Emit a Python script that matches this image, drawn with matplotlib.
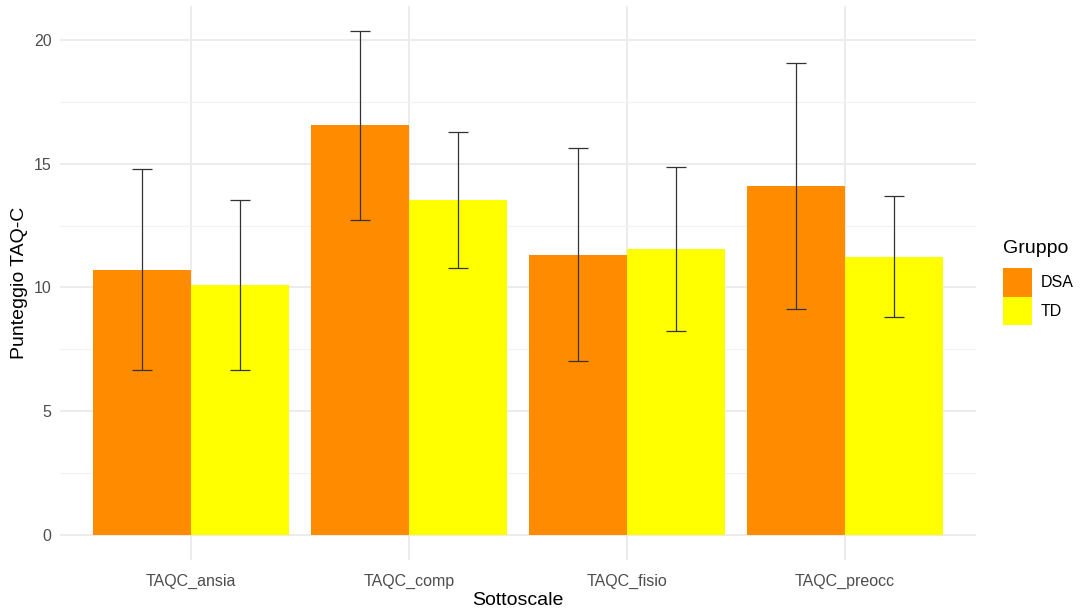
import matplotlib
matplotlib.use("Agg")
import matplotlib.pyplot as plt
import numpy as np

categories = ["TAQC_ansia", "TAQC_comp", "TAQC_fisio", "TAQC_preocc"]
groups = ["DSA", "TD"]
dsa_mean = [10.72, 16.55, 11.33, 14.10]
dsa_sd = [4.07, 3.82, 4.30, 4.98]
td_mean = [10.10, 13.55, 11.56, 11.25]
td_sd = [3.45, 2.75, 3.30, 2.43]
colors = ["#FF8C00", "#FFFF00"]
yticks = [0, 5, 10, 15, 20]

plt.rcParams['font.family'] = ['Liberation Sans', 'DejaVu Sans']

fig = plt.figure(figsize=(10.82, 6.10), dpi=100)
ax = fig.add_axes([60/1082, 1-560/610, (976-60)/1082, (560-6)/610])

x = np.arange(1, len(categories)+1)
w = 0.45
means = [dsa_mean, td_mean]
sds = [dsa_sd, td_sd]
handles = []
for i, g in enumerate(groups):
    pos = x + (i - 0.5) * w
    b = ax.bar(pos, means[i], width=w, color=colors[i], label=g, zorder=2, linewidth=0)
    handles.append(b)
    ax.errorbar(pos, means[i], yerr=sds[i], fmt='none', ecolor='#333333',
                elinewidth=0.9, capsize=7.5, capthick=0.9, zorder=3)

ax.set_xlim(0.4, 4.6)
ax.set_ylim(-1.018, 21.38)
ax.set_xticks(x)
ax.set_xticklabels(categories)
ax.set_yticks(yticks)
ax.set_yticks([2.5, 7.5, 12.5, 17.5], minor=True)
ax.grid(True, which='major', color='#EBEBEB', linewidth=1.3, zorder=0)
ax.grid(True, which='minor', axis='y', color='#F2F2F2', linewidth=0.8, zorder=0)
ax.set_axisbelow(True)
for s in ax.spines.values():
    s.set_visible(False)
ax.tick_params(which='both', length=0, labelsize=11.5, labelcolor='#4D4D4D', pad=6)
ax.tick_params(axis='x', pad=10)
ax.set_xlabel("Sottoscale", fontsize=14, color='black', labelpad=2)
ax.set_ylabel("Punteggio TAQ-C", fontsize=14, color='black', labelpad=4)

fig.text(1003/1082, 1-248/610, "Gruppo", fontsize=14, color='black',
         ha='left', va='center')
leg = fig.legend(handles=handles, labels=groups,
                 loc='upper left', bbox_to_anchor=(1003/1082, 1-268/610),
                 frameon=False, fontsize=11.5,
                 handlelength=1.8, handleheight=2.39, labelspacing=0.0,
                 handletextpad=0.55, borderaxespad=0, borderpad=0)

fig.savefig("out.png", dpi=100, facecolor='white')
